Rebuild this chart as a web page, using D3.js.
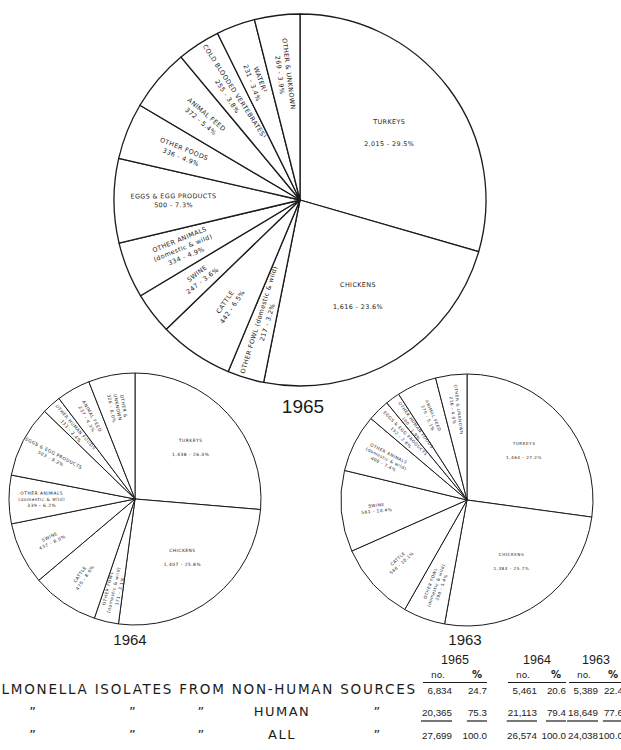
<!DOCTYPE html>
<html>
<head>
<meta charset="utf-8">
<script src="https://cdn.jsdelivr.net/npm/d3@7"></script>
<style>
  body { margin: 0; background: #fff; }
  svg { display: block; font-family: "DejaVu Sans", sans-serif; }
</style>
</head>
<body>
<div id="chart"></div>
<script>
// 1965 sources (clockwise from 12 o'clock)
const names65 = ["TURKEYS", "CHICKENS", "OTHER FOWL (domestic & wild)", "CATTLE", "SWINE",
  "OTHER ANIMALS\n(domestic & wild)", "EGGS & EGG PRODUCTS", "OTHER FOODS", "ANIMAL FEED",
  "COLD BLOODED VERTEBRATES¹", "WATER²", "OTHER & UNKNOWN"];
const counts65 = [2015, 1616, 217, 442, 247, 334, 500, 336, 372, 255, 231, 269];
const pcts65 = [29.5, 23.6, 3.2, 6.5, 3.6, 4.9, 7.3, 4.9, 5.4, 3.8, 3.4, 3.9];

// 1964
const names64 = ["TURKEYS", "CHICKENS", "OTHER FOWL\n(domestic & wild)", "CATTLE", "SWINE",
  "OTHER ANIMALS\n(domestic & wild)", "EGGS & EGG PRODUCTS", "OTHER HUMAN FOODS", "ANIMAL FEED",
  "OTHER &\nUNKNOWN"];
const counts64 = [1438, 1407, 171, 470, 437, 339, 503, 133, 237, 326];
const pcts64 = [26.3, 25.8, 3.1, 8.6, 8.0, 6.2, 9.2, 2.4, 4.3, 6.0];

// 1963
const names63 = ["TURKEYS", "CHICKENS", "OTHER FOWL\n(domestic & wild)", "CATTLE", "SWINE",
  "OTHER ANIMALS\n(domestic & wild)", "EGGS & EGG PRODUCTS", "OTHER HUMAN FOODS", "ANIMAL FEED",
  "OTHER & UNKNOWN"];
const counts63 = [1464, 1384, 290, 546, 561, 400, 152, 100, 276, 216];
const pcts63 = [27.2, 25.7, 5.4, 10.1, 10.4, 7.4, 2.8, 1.9, 5.1, 4.0];

// summary table
const tableYears = ["1965", "1964", "1963"];
const nonHumanNo = [6834, 5461, 5389];
const nonHumanPct = [24.7, 20.6, 22.4];
const humanNo = [20365, 21113, 18649];
const humanPct = [75.3, 79.4, 77.6];
const allNo = [27699, 26574, 24038];
const allPct = [100.0, 100.0, 100.0];
const rowLabel = "SALMONELLA ISOLATES FROM NON-HUMAN SOURCES";
const rowWords2 = ["\u201D", "\u201D", "\u201D", "HUMAN", "\u201D"];
const rowWords3 = ["\u201D", "\u201D", "\u201D", "ALL", "\u201D"];

const svg = d3.select("#chart").append("svg").attr("width", 621).attr("height", 750);
const fmt = d3.format(",");
const ink = "#1b1b1b";

function drawPie(names, counts, pcts, o) {
  const pie = d3.pie().sort(null).value((d) => d);
  const arcs = pie(counts);
  const arc = d3.arc().innerRadius(0).outerRadius(o.r);
  const g = svg.append("g").attr("transform", `translate(${o.cx},${o.cy})`);

  g.selectAll("path")
    .data(arcs)
    .join("path")
    .attr("d", arc)
    .attr("fill", "#fff")
    .attr("stroke", ink)
    .attr("stroke-width", o.sw)
    .attr("stroke-linejoin", "round");

  arcs.forEach((a, i) => {
    const mid = (a.startAngle + a.endAngle) / 2;
    const big = pcts[i] > 20;
    const k = big ? o.kBig : o.k;
    const x = Math.sin(mid) * o.r * k;
    const y = -Math.cos(mid) * o.r * k;
    const rot = !big && mid > Math.PI ? (mid * 180) / Math.PI - 270 : 0;
    const lines = names[i].split("\n").concat(`${fmt(counts[i])} - ${pcts[i].toFixed(1)}%`);
    const lh = big ? o.bigGap : o.fs * 1.4;
    const t = g.append("text")
      .attr("transform", `translate(${x},${y}) rotate(${rot})`)
      .attr("text-anchor", "middle")
      .attr("font-size", o.fs)
      .attr("letter-spacing", o.ls)
      .attr("fill", ink);
    lines.forEach((l, j) => {
      t.append("tspan")
        .attr("x", 0)
        .attr("y", (j - (lines.length - 1) / 2) * lh + o.fs * 0.35)
        .text(l);
    });
  });

  svg.append("text")
    .attr("x", o.yx).attr("y", o.yy)
    .attr("text-anchor", "middle")
    .attr("font-family", "Liberation Sans, sans-serif")
    .attr("font-size", o.yfs)
    .attr("fill", ink)
    .text(o.year);
}

drawPie(names65, counts65, pcts65, {
  cx: 300, cy: 200, r: 186, sw: 1.3, k: 0.68, kBig: 0.6, fs: 6.4, ls: 0.4, bigGap: 22,
  year: "1965", yx: 303, yy: 413, yfs: 19,
});
drawPie(names64, counts64, pcts64, {
  cx: 135, cy: 499, r: 126, sw: 1, k: 0.74, kBig: 0.6, fs: 4.4, ls: 0.5, bigGap: 14,
  year: "1964", yx: 130, yy: 645, yfs: 15,
});
drawPie(names63, counts63, pcts63, {
  cx: 467, cy: 500, r: 126, sw: 1, k: 0.72, kBig: 0.6, fs: 4.2, ls: 0.5, bigGap: 14,
  year: "1963", yx: 465, yy: 645, yfs: 15,
});

// table
const rowY = [694, 716, 739];
const noRight = [452, 537, 598];
const pctRight = [487, 566, 623];
const tbl = svg.append("g").attr("fill", ink);

const lab = tbl.append("text")
  .attr("x", -20).attr("y", rowY[0])
  .attr("font-size", 13.5)
  .attr("textLength", 435)
  .attr("lengthAdjust", "spacing")
  .text(rowLabel);

// centre of each word in the first row label, used for the ditto rows
const ln = lab.node();
const spans = [[0, 9], [11, 18], [20, 23], [25, 33], [35, 41]];
const wordX = spans.map(([a, b]) => {
  const s = ln.getStartPositionOfChar(a).x;
  const e = ln.getEndPositionOfChar(b).x;
  return (s + e) / 2;
});

[rowWords2, rowWords3].forEach((words, r) => {
  words.forEach((w, c) => {
    tbl.append("text")
      .attr("x", wordX[c]).attr("y", rowY[r + 1])
      .attr("text-anchor", "middle")
      .attr("font-size", 13)
      .attr("letter-spacing", 1.5)
      .text(w);
  });
});

const rows = [[nonHumanNo, nonHumanPct], [humanNo, humanPct], [allNo, allPct]];
tableYears.forEach((yr, c) => {
  const left = noRight[c] - 29;
  tbl.append("text")
    .attr("x", (left + pctRight[c]) / 2).attr("y", 664)
    .attr("text-anchor", "middle")
    .attr("font-family", "Liberation Sans, sans-serif")
    .attr("font-size", 12.5)
    .text(yr);
  tbl.append("text").attr("x", noRight[c] - 14).attr("y", 678)
    .attr("text-anchor", "middle").attr("font-size", 9).text("no.");
  tbl.append("text").attr("x", pctRight[c] - 10).attr("y", 678)
    .attr("text-anchor", "middle").attr("font-size", 10).attr("font-weight", "bold").text("%");
  tbl.append("line")
    .attr("x1", left).attr("x2", pctRight[c]).attr("y1", 682.5).attr("y2", 682.5)
    .attr("stroke", ink).attr("stroke-width", 1.2);

  rows.forEach(([nos, pcs], r) => {
    const tn = tbl.append("text").attr("x", noRight[c]).attr("y", rowY[r])
      .attr("text-anchor", "end")
      .attr("font-family", "Liberation Sans, sans-serif").attr("font-size", 9.8)
      .text(fmt(nos[c]));
    const tp = tbl.append("text").attr("x", pctRight[c]).attr("y", rowY[r])
      .attr("text-anchor", "end")
      .attr("font-family", "Liberation Sans, sans-serif").attr("font-size", 9.8)
      .text(pcs[c].toFixed(1));
    if (r === 1) {
      [[tn, noRight[c]], [tp, pctRight[c]]].forEach(([t, xr]) => {
        const w = t.node().getComputedTextLength();
        tbl.append("line")
          .attr("x1", xr - w - 1).attr("x2", xr)
          .attr("y1", rowY[r] + 5).attr("y2", rowY[r] + 5)
          .attr("stroke", ink).attr("stroke-width", 1.2);
      });
    }
  });
});
</script>
</body>
</html>
